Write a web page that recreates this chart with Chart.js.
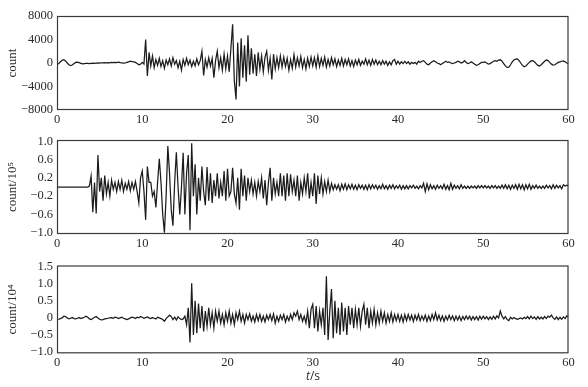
<!DOCTYPE html>
<html>
<head>
<meta charset="utf-8">
<script src="https://cdn.jsdelivr.net/npm/chart.js@4"></script>
<style>
  body { margin: 0; background: #fff; }
  .wrap { position: relative; width: 588px; height: 387px; }
  .panel { position: absolute; left: 0; width: 588px; }
  #tlabel { position: absolute; left: 306px; top: 367px; font: 12px "Open Sans", sans-serif; color: #2b2b2b; }
</style>
</head>
<body>
<div class="wrap">
  <div class="panel" style="top:0;height:128px"><canvas id="c1"></canvas></div>
  <div class="panel" style="top:128px;height:126px"><canvas id="c2"></canvas></div>
  <div class="panel" style="top:254px;height:120px"><canvas id="c3"></canvas></div>
  <div id="tlabel"><i>t</i>/s</div>
</div>
<script>
// sample spacing of the traces (seconds)
const tStep = 0.2;
const xTicks = [0, 10, 20, 30, 40, 50, 60];

// trace 1, count (one line = one second)
const trace1 = [
  -300, -100, 200, 450, 550,
  350, 0, -300, -450, -350,
  -100, 100, 150, 50, -50,
  -150, -100, -50, -80, -120,
  -60, -20, -80, -40, 0,
  -30, 40, 10, 60, 20,
  80, 40, 100, 60, 120,
  80, 140, 60, 20, -20,
  0, 100, 200, 300, 250,
  200, 100, -100, -300, -200,
  100, -200, 4000, -2200, 1800,
  -500, 1200, -800, 600, -400,
  800, -600, 400, -900, 500,
  -300, 700, -500, 900, -200,
  400, -800, 300, -1200, 600,
  -400, 800, -300, 500, -600,
  300, -500, 700, -300, 400,
  2000, -2100, 600, -700, 900,
  -500, 800, -2500, 400, 2000,
  -800, 900, -1200, 1500, -1000,
  1200, -1500, 2500, 6600, -3000,
  -6200, 3500, -4000, 4200, -2500,
  3000, -3200, 4700, -2000, 2500,
  -1800, 1500, -2200, 1800, -1000,
  1200, -1500, 1000, 2000, -1200,
  800, -2800, 1500, -1000, 900,
  -800, 1200, -700, 1000, -600,
  800, -1200, 600, -900, 1400,
  -700, 900, -500, 1100, -800,
  600, -1000, 800, -600, 1000,
  -500, 900, -700, 1200, -600,
  800, -400, 1000, -700, 600,
  -500, 900, -300, 700, -600,
  500, -400, 800, -500, 600,
  -300, 700, -500, 400, -600,
  500, -300, 600, -400, 300,
  -200, 700, -300, 500, -400,
  600, -200, 500, -300, 300,
  -300, 400, -200, 300, -400,
  200, -300, 400, 600, -200,
  300, -200, 200, -100, 300,
  -100, 200, -200, 100, -100,
  100, -200, 300, 100, 300,
  400, 100, -200, -300, 0,
  200, 400, 200, 0, -100,
  -300, -100, 100, 300, 100,
  200, 0, -100, 0, 100,
  300, 200, 0, 100, 400,
  100, -100, 0, 200, 0,
  -200, -400, -300, -100, 100,
  100, 200, 0, -200, -100,
  100, 300, 400, 300, 500,
  550, 300, -100, -500, -750,
  -700, -300, 200, 500, 650,
  700, 400, 0, -400, -650,
  -500, -200, 100, 350, 400,
  200, -100, -400, -500, -300,
  0, 300, 500, 400, 100,
  -200, -350, -300, -100, 100,
  200, 300, 350, 200, 0,
  -100
];

// trace 2, count/10^5
const trace2 = [
  0, 0, 0, 0, 0,
  0, 0, 0, 0, 0,
  0, 0, 0, 0, 0,
  0, 0, 0, 0, 0.02,
  0.24, -0.55, 0.1, -0.58, 0.7,
  -0.1, 0.2, -0.3, 0.25, -0.15,
  0.1, -0.2, 0.15, -0.05, 0.1,
  -0.1, 0.12, -0.05, 0.15, -0.1,
  0.08, -0.05, 0.12, -0.08, 0.1,
  -0.05, 0.12, -0.1, -0.35, 0.2,
  0.35, -0.1, -0.72, 0.45, 0.1,
  0.1, -0.2, -0.1, -0.45, 0.1,
  0.62, 0.1, -0.6, -1.0, -0.2,
  0.9, 0.3, -0.5, -0.85, 0.1,
  0.76, 0.0, -0.6, 0.0, 0.75,
  -0.6, 0.3, 0.7, -0.95, 0.96,
  -0.2, 0.5, -0.6, 0.2, -0.3,
  0.45, -0.1, -0.4, 0.44, -0.3,
  0.3, -0.35, 0.15, -0.2, 0.3,
  -0.25, 0.1, -0.2, 0.35, -0.3,
  0.4, -0.2, -0.1, 0.42, -0.15,
  -0.35, 0.2, -0.5, 0.4, -0.2,
  0.25, -0.3, 0.2, -0.1, 0.15,
  -0.15, 0.1, -0.2, 0.12, -0.1,
  0.2, -0.25, 0.15, -0.4, 0.1,
  0.42, -0.3, 0.2, -0.15, 0.1,
  -0.2, 0.3, -0.2, 0.25, -0.3,
  0.3, -0.2, 0.28, -0.1, 0.15,
  -0.2, 0.25, -0.3, 0.1, -0.15,
  0.2, -0.1, 0.3, -0.25, 0.1,
  -0.2, 0.3, -0.37, 0.25, -0.15,
  0.2, -0.15, 0.12, -0.1, 0.15,
  -0.1, 0.08, -0.06, 0.05, -0.05,
  0.05, -0.08, 0.06, -0.05, 0.07,
  -0.06, 0.05, -0.04, 0.06, -0.05,
  0.04, -0.06, 0.05, -0.03, 0.04,
  -0.05, 0.04, -0.06, 0.05, -0.04,
  0.05, -0.03, 0.04, -0.05, 0.03,
  -0.04, 0.06, -0.04, 0.03, -0.05,
  0.04, -0.03, 0.05, -0.04, 0.03,
  -0.03, 0.04, -0.05, 0.03, -0.04,
  0.03, -0.04, 0.03, -0.02, 0.04,
  -0.03, 0.02, -0.04, 0.03, -0.02,
  0.08, -0.1, 0.07, -0.06, 0.05,
  -0.04, 0.03, -0.05, 0.04, -0.03,
  0.03, -0.04, 0.06, -0.05, 0.03,
  -0.06, 0.08, -0.05, 0.04, -0.03,
  0.03, -0.04, 0.05, -0.03, 0.02,
  -0.03, 0.02, -0.03, 0.02, -0.02,
  0.02, -0.03, 0.03, -0.02, 0.03,
  -0.02, 0.03, -0.02, 0.02, -0.03,
  0.03, -0.02, 0.03, -0.03, 0.02,
  -0.03, 0.04, -0.03, 0.05, -0.04,
  0.04, -0.05, 0.04, -0.03, 0.05,
  -0.05, 0.06, -0.04, 0.05, -0.06,
  0.05, -0.04, 0.06, -0.05, 0.03,
  -0.03, 0.04, -0.03, 0.02, -0.03,
  0.02, -0.03, 0.04, -0.02, 0.03,
  -0.04, 0.05, -0.03, 0.04, -0.02,
  0.03, -0.04, 0.05, 0.02, 0.04,
  0.02
];

// trace 3, count/10^4
const trace3 = [
  -0.05, -0.04, -0.02, 0.0, 0.05,
  0.04, 0.0, -0.03, -0.01, 0.01,
  -0.02, -0.03, -0.01, 0.01, -0.02,
  0.0, 0.02, 0.05, 0.02, -0.03,
  -0.05, -0.02, 0.02, 0.04, 0.0,
  -0.04, -0.06, -0.05, -0.03, -0.02,
  -0.01, 0.0, 0.01, -0.01, 0.02,
  0.01, -0.02, 0.0, 0.02, -0.01,
  -0.03, -0.05, -0.03, 0.0, 0.02,
  0.01, -0.02, 0.02, 0.0, 0.04,
  0.02, -0.01, 0.01, 0.03, 0.0,
  -0.02, 0.01, -0.01, -0.03, 0.02,
  0.0, -0.02, -0.05, -0.1, -0.02,
  0.03, 0.08, 0.04, -0.05, 0.02,
  -0.06, 0.03, -0.02, -0.05, -0.03,
  0.05, -0.2, 0.3, -0.72, 1.02,
  -0.5, 0.5, -0.45, 0.42, -0.3,
  0.35, -0.4, 0.2, -0.25, 0.3,
  -0.2, 0.15, -0.3, 0.2, -0.1,
  0.2, -0.15, 0.1, -0.2, 0.15,
  -0.1, 0.2, -0.15, 0.1, -0.2,
  0.15, -0.05, 0.2, -0.1, 0.1,
  -0.15, 0.1, -0.05, 0.12, -0.1,
  0.05, -0.12, 0.1, -0.08, 0.1,
  -0.1, 0.05, -0.12, 0.08, -0.05,
  0.1, -0.08, 0.12, -0.15, 0.05,
  -0.1, 0.08, -0.05, 0.1, -0.12,
  0.05, -0.08, 0.1, -0.05, 0.15,
  0.05, 0.2, -0.05, 0.1, -0.1,
  0.05, -0.15, 0.2, -0.3, 0.25,
  0.4, -0.3, 0.35, -0.4, 0.2,
  -0.2, 0.3, -0.5, 1.22, -0.65,
  0.2, 0.85, -0.6, 0.5, -0.45,
  0.3, -0.5, 0.45, -0.4, 0.3,
  -0.5, 0.35, -0.2, 0.3, -0.3,
  0.25, -0.2, 0.3, -0.25, 0.2,
  0.4, -0.2, 0.3, -0.3, 0.2,
  -0.15, 0.25, -0.2, 0.15, -0.15,
  0.2, -0.1, 0.15, -0.15, 0.1,
  -0.1, 0.15, -0.12, 0.1, -0.08,
  0.1, -0.1, 0.08, -0.12, 0.1,
  -0.08, 0.1, -0.06, 0.08, -0.1,
  0.08, -0.06, 0.1, -0.08, 0.06,
  -0.06, 0.08, -0.1, 0.06, -0.08,
  0.1, -0.05, 0.15, -0.06, 0.08,
  -0.08, 0.06, -0.1, 0.05, -0.06,
  0.08, -0.05, 0.06, -0.08, 0.05,
  -0.06, 0.05, -0.08, 0.04, -0.05,
  0.06, -0.04, 0.05, -0.06, 0.04,
  -0.05, 0.04, -0.06, 0.05, -0.04,
  0.05, -0.03, 0.04, -0.05, 0.03,
  -0.04, 0.05, -0.03, 0.06, 0.0,
  0.2, 0.05, -0.03, 0.04, -0.05,
  -0.08, 0.02, -0.03, 0.01, -0.02,
  -0.04, -0.02, 0.0, -0.03, 0.02,
  -0.02, 0.04, -0.03, 0.05, -0.02,
  0.03, -0.04, 0.04, -0.03, 0.02,
  -0.03, 0.04, -0.02, 0.05, 0.02,
  0.08, 0.0, -0.04, 0.03, -0.05,
  0.02, -0.04, 0.03, -0.02, 0.06,
  0.03
];

const yTicks1 = [-8000, -4000, 0, 4000, 8000];
const yTicks2 = [-1.0, -0.6, -0.2, 0.2, 0.6, 1.0];
const yTicks3 = [-1.0, -0.5, 0, 0.5, 1.0, 1.5];

const textColor = "#2b2b2b";
const serif = { family: "'Liberation Serif', 'Times New Roman', serif", size: 12.5 };

// draw the full box round the plot area
const framePlugin = {
  id: "frame",
  afterDraw(chart) {
    const a = chart.chartArea;
    const ctx = chart.ctx;
    ctx.save();
    ctx.strokeStyle = "#3a3a3a";
    ctx.lineWidth = 1.2;
    ctx.strokeRect(a.left + 0.5, a.top + 0.5, a.right - a.left - 1, a.bottom - a.top - 1);
    ctx.restore();
  }
};

function fmt(v, dec) {
  const s = v === 0 ? "0" : Math.abs(v).toFixed(dec);
  return v < 0 ? "\u2212" + s : s;
}

function makeChart(id, values, yMin, yMax, ticks, dec, title, padTop, xAxisH) {
  const points = values.map((v, i) => ({ x: i * tStep, y: v }));
  return new Chart(document.getElementById(id), {
    type: "line",
    data: {
      datasets: [{
        data: points,
        borderColor: "#1c1c1c",
        borderWidth: 1.25,
        pointRadius: 0,
        tension: 0
      }]
    },
    options: {
      responsive: true,
      maintainAspectRatio: false,
      animation: false,
      layout: { padding: { top: padTop, right: 19.5, left: 0, bottom: 0 } },
      plugins: { legend: { display: false }, tooltip: { enabled: false } },
      scales: {
        x: {
          type: "linear",
          min: 0,
          max: 60,
          grid: { display: false, drawTicks: false },
          border: { display: false },
          afterBuildTicks: s => { s.ticks = xTicks.map(v => ({ value: v })); },
          afterFit: s => { s.height = xAxisH; },
          ticks: { color: textColor, font: serif, padding: 2, maxRotation: 0, autoSkip: false }
        },
        y: {
          min: yMin,
          max: yMax,
          grid: { display: false, drawTicks: false },
          border: { display: false },
          afterBuildTicks: s => { s.ticks = ticks.map(v => ({ value: v })); },
          afterFit: s => { s.width = 57; },
          ticks: { color: textColor, font: serif, padding: 4, autoSkip: false, callback: v => fmt(v, dec) },
          title: {
            display: true,
            text: title,
            color: textColor,
            font: { family: serif.family, size: 13 },
            padding: { top: 5, bottom: 4 }
          }
        }
      }
    },
    plugins: [framePlugin]
  });
}

makeChart("c1", trace1, -8000, 8000, yTicks1, 0, "count", 16, 18);
makeChart("c2", trace2, -1.03, 1.03, yTicks2, 1, "count/10\u2075", 12, 20);
makeChart("c3", trace3, -1.04, 1.54, yTicks3, 1, "count/10\u2074", 5.3, 20.7);
</script>
</body>
</html>
